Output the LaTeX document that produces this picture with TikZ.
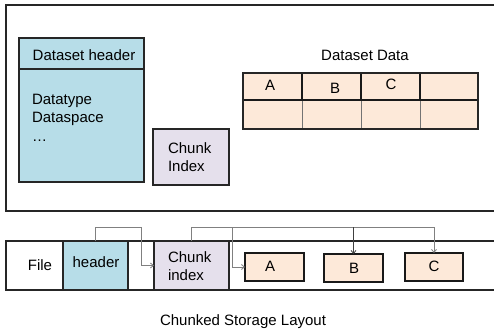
\documentclass[tikz,border=0pt]{standalone}
\usepackage{fontspec}
\setmainfont{Liberation Sans}
\usetikzlibrary{arrows.meta,calc}
\definecolor{hdrblue}{HTML}{B7DDE8}
\definecolor{lav}{HTML}{E5E0EC}
\definecolor{peach}{HTML}{FDE9D9}
\begin{document}
\begin{tikzpicture}[x=1pt,y=-1pt,
  every node/.style={font=\fontsize{15}{18}\selectfont, inner sep=0pt, outer sep=0pt},
  frame/.style={draw=black!85, line width=1.3pt},
  cellthick/.style={draw=black!90, line width=1.3pt, fill=peach},
  cellthin/.style={draw=black!55, line width=0.8pt, fill=peach},
  conn/.style={draw=black!50, line width=0.8pt, -{Straight Barb[length=3pt,width=5pt]}},
  connB/.style={draw=black!75, line width=0.8pt, -{Straight Barb[length=3pt,width=5pt]}}]
\useasboundingbox (0,0) rectangle (494,331);
\clip (0,0) rectangle (494,331);
\fill[white] (0,0) rectangle (494,331);
% top frame
\node[frame, anchor=north west, minimum width=500pt, minimum height=206pt] (topframe) at (6,5) {};
% dataset header
\node[frame, fill=hdrblue, anchor=north west, minimum width=125pt, minimum height=144pt] (dh) at (19,38) {};
\draw[frame] (dh.west |- 0,69) -- (dh.east |- 0,69);
\node (dhl) at (84,55) {Dataset header};
\node[anchor=base west] (dt1) at (32,105) {Datatype};
\node[anchor=base west] (dt2) at (32,123) {Dataspace};
\node[anchor=base west] (dt3) at (32,142) {…};
% chunk index top
\node[frame, fill=lav, anchor=north west, minimum width=76pt, minimum height=56pt] (ci) at (153,129) {};
\node[align=left, anchor=west] (cil) at (168,157) {Chunk\\Index};
% dataset data grid
\node (ddl) at (365,55) {Dataset Data};
\node[cellthin, anchor=north west, minimum width=59pt, minimum height=29pt] (g21) at (243,100) {};
\node[cellthin, anchor=north west, minimum width=59pt, minimum height=29pt] (g22) at (302,100) {};
\node[cellthin, anchor=north west, minimum width=59pt, minimum height=29pt] (g23) at (361,100) {};
\node[cellthin, anchor=north west, minimum width=58pt, minimum height=29pt] (g24) at (420,100) {};
\node[cellthick, anchor=north west, minimum width=59pt, minimum height=27pt] (g11) at (243,73) {};
\node[cellthick, anchor=north west, minimum width=59pt, minimum height=27pt] (g12) at (302,73) {};
\node[cellthick, anchor=north west, minimum width=59pt, minimum height=27pt] (g13) at (361,73) {};
\node[cellthick, anchor=north west, minimum width=58pt, minimum height=27pt] (g14) at (420,73) {};
\draw[frame] (243,73) rectangle (478,129);
\node (ga) at (270,85) {A};
\node (gb) at (335,88) {B};
\node (gc) at (391,84) {C};
% file bar
\node[frame, anchor=north west, minimum width=500pt, minimum height=49pt] (fbar) at (6,241) {};
\node (ffile) at (40,265) {File};
\node[frame, fill=hdrblue, anchor=north west, minimum width=65pt, minimum height=49pt] (fh) at (63,241) {};
\node (fhl) at (96,262) {header};
\node[frame, fill=lav, anchor=north west, minimum width=75pt, minimum height=49pt] (fci) at (154,241) {};
\node[align=left, anchor=west] (fcil) at (168,266) {Chunk\\index};
\node[cellthick, anchor=north west, minimum width=59pt, minimum height=28pt] (fA) at (245,253) {};
\node (fAl) at (270,266) {A};
\node[cellthick, anchor=north west, minimum width=59pt, minimum height=28pt] (fB) at (324,254) {};
\node (fBl) at (354,268) {B};
\node[cellthick, anchor=north west, minimum width=58pt, minimum height=28pt] (fC) at (405,253) {};
\node (fCl) at (434,266) {C};
% connectors
\coordinate (j1) at (141,227);
\coordinate (j2) at (232,227);
\draw[conn, -] (fh.north) |- (j1);
\draw[conn] (j1) |- (fci.west);
\draw[conn, -] (fci.north) |- (j2);
\draw[conn] (j2) |- (fA.west);
\draw[conn] (j2) -| (fC.north);
\draw[connB] (fB.north |- j2) -- (fB.north);
% title
\node (title) at (243,322) {Chunked Storage Layout};
\end{tikzpicture}
\end{document}
